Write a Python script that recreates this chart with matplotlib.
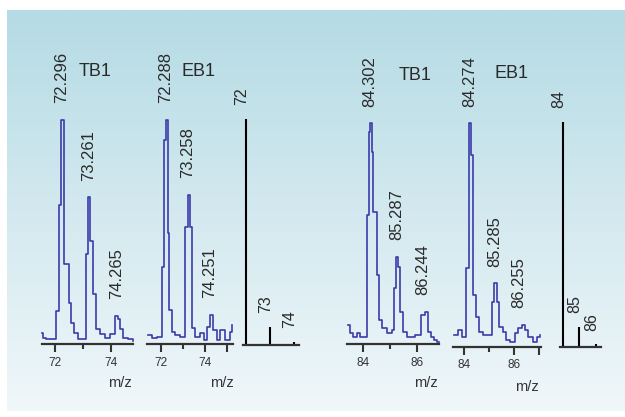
import numpy as np
import matplotlib
matplotlib.use("Agg")
import matplotlib.pyplot as plt
from matplotlib.colors import LinearSegmentedColormap
from matplotlib.patches import Rectangle

plt.rcParams['font.family'] = ['Liberation Sans', 'DejaVu Sans']

# profile spectra, intensity in % of the tallest peak
tb1_72_mz = [71.53, 71.58, 71.68, 72.05, 72.14, 72.23, 72.32, 72.49, 72.58, 72.68, 72.82, 73.12, 73.18,
             73.26, 73.36, 73.48, 73.60, 73.77, 73.95, 74.13, 74.25, 74.31, 74.43, 74.60, 74.77]
tb1_72_int = [5.0, 2.7, 2.2, 14.8, 61.9, 100, 35.9, 18.4, 9.4, 4.9, 2.2, 40.4, 65.5,
              46.2, 22.4, 6.7, 4.5, 2.7, 4.5, 12.6, 11.2, 6.7, 2.7, 2.2, 1.3]

eb1_72_mz = [71.42, 71.60, 71.82, 72.05, 72.15, 72.24, 72.31, 72.37, 72.50, 72.64, 72.87, 73.09, 73.22,
             73.32, 73.40, 73.55, 73.77, 73.96, 74.07, 74.22, 74.37, 74.52, 74.67, 74.90, 75.12, 75.23]
eb1_72_int = [4.0, 2.7, 3.3, 34.5, 91.1, 100, 49.6, 15.2, 5.5, 4.0, 3.3, 52.4, 66.5,
              52.4, 7.1, 3.3, 5.0, 1.8, 7.7, 12.9, 6.3, 1.8, 6.3, 1.8, 5.5, 8.5]

tb1_84_mz = [83.45, 83.53, 83.65, 83.78, 83.90, 84.15, 84.21, 84.27, 84.33, 84.39, 84.51, 84.61, 84.72,
             84.88, 85.07, 85.15, 85.22, 85.31, 85.37, 85.49, 85.62, 85.92, 86.14, 86.29, 86.39, 86.51,
             86.63, 86.72, 86.80]
tb1_84_int = [8.6, 4.8, 3.3, 4.8, 3.3, 58.5, 96.2, 100, 87.1, 59.9, 31.3, 10.9, 7.1,
              4.8, 6.3, 25.2, 39.6, 35.0, 14.6, 5.6, 3.3, 4.1, 13.1, 14.6, 5.6, 3.3,
              1.8, 1.0, 1.0]

eb1_84_mz = [83.59, 83.76, 83.90, 84.07, 84.19, 84.27, 84.36, 84.47, 84.60, 84.76, 84.96, 85.10, 85.20,
             85.30, 85.39, 85.54, 85.66, 85.83, 86.03, 86.16, 86.30, 86.43, 86.56, 86.76, 86.92, 87.03]
eb1_84_int = [5.2, 7.5, 4.5, 35.1, 100, 85.8, 23.1, 13.4, 6.7, 5.2, 5.2, 20.1, 28.4,
              20.1, 9.0, 6.7, 3.0, 2.2, 6.0, 8.2, 9.7, 7.5, 4.5, 2.2, 4.5, 5.2]

# peak labels
tb1_72_peaks = ['72.296', '73.261', '74.265']
eb1_72_peaks = ['72.288', '73.258', '74.251']
tb1_84_peaks = ['84.302', '85.287', '86.244']
eb1_84_peaks = ['84.274', '85.285', '86.255']

# theoretical isotope sticks
stick_72_mz = [72, 73, 74]
stick_72_int = [100, 8.0, 1.3]
stick_84_mz = [84, 85, 86]
stick_84_int = [100, 8.6, 1.0]

W, H = 625, 417
fig = plt.figure(figsize=(W / 100, H / 100), dpi=100)
fig.patch.set_facecolor('white')


def px_axes(left, right, base, top):
    return fig.add_axes([left / W, 1 - base / H, (right - left) / W, (base - top) / H])


# gradient panel behind everything
bg = px_axes(7, W, 411, 10)
cmap = LinearSegmentedColormap.from_list('bg', ['#b5dbe5', '#d3e9ef', '#f0f7fa'])
bg.imshow(np.linspace(0, 1, 256).reshape(-1, 1), aspect='auto', cmap=cmap, extent=[0, 1, 0, 1])
bg.axis('off')

line_col = '#3b3bab'
ax_col = '#333333'
txt_col = '#2a2a2a'


def style(ax, xlim):
    ax.set_facecolor('none')
    for s in ['top', 'left', 'right']:
        ax.spines[s].set_visible(False)
    ax.spines['bottom'].set_linewidth(1.6)
    ax.spines['bottom'].set_color(ax_col)
    ax.set_yticks([])
    ax.set_xlim(*xlim)
    ax.set_ylim(0, 100)


def spectrum(box, xlim, mz, inten, peaks, major, labels, minor):
    ax = px_axes(*box)
    style(ax, xlim)
    ax.plot(mz, inten, drawstyle='steps-post', color=line_col, lw=1.2, clip_on=False)
    mz_a, int_a = np.array(mz), np.array(inten)
    for p in peaks:
        v = float(p)
        h = int_a[np.abs(mz_a - v) < 0.3].max()
        ax.annotate(p, (v, h), xytext=(-1, 12), textcoords='offset points', rotation=90,
                    ha='center', va='bottom', fontsize=12, color=txt_col)
    ax.set_xticks(major, labels)
    ax.set_xticks(minor, minor=True)
    ax.tick_params(which='major', length=6, width=1.5, color=ax_col, labelsize=8.5,
                   labelcolor=ax_col, pad=3)
    ax.tick_params(which='minor', length=3.5, width=1.5, color=ax_col)
    return ax


def sticks(box, xlim, mz, inten):
    ax = px_axes(*box)
    style(ax, xlim)
    ax.set_xticks([])
    ax.vlines(mz, 0, inten, color='black', lw=1.5, clip_on=False)
    for m, h in zip(mz, inten):
        ax.annotate(str(m), (m, h), xytext=(-3, 10), textcoords='offset points', rotation=90,
                    ha='center', va='bottom', fontsize=11.5, color=txt_col)
    return ax


spectrum((41.7, 132.7, 344.3, 120), (71.525, 74.775), tb1_72_mz, tb1_72_int, tb1_72_peaks,
         [72, 74], ['72', '74'], [73])
spectrum((147.3, 233.3, 344, 120), (71.40, 75.27), eb1_72_mz, eb1_72_int, eb1_72_peaks,
         [72, 74, 75], ['72', '74', ''], [73])
sticks((243.3, 299.3, 345, 119.3), (71.89, 74.22), stick_72_mz, stick_72_int)
spectrum((347.3, 439, 344, 123.3), (83.43, 86.8), tb1_84_mz, tb1_84_int, tb1_84_peaks,
         [84, 86], ['84', '86'], [85])
spectrum((453.3, 540.7, 346.7, 123.3), (83.56, 87.06), eb1_84_mz, eb1_84_int, eb1_84_peaks,
         [84, 86, 87], ['84', '86', ''], [85])
sticks((560, 600.7, 346.7, 121.7), (83.85, 86.29), stick_84_mz, stick_84_int)


def px_text(x, y, s, **kw):
    return fig.text(x / W, 1 - y / H, s, ha='center', va='center', **kw)


for x, y, s in [(95, 71, 'TB1'), (198, 71, 'EB1'), (415, 76, 'TB1'), (512, 74, 'EB1')]:
    px_text(x, y, s, fontsize=13, color=txt_col)

for x, y in [(120, 383), (222, 383), (426, 383), (527, 387)]:
    t = px_text(x, y, 'm/z', fontsize=10.5, color=ax_col)
    if x == 222:
        # the original label is cut off at the panel edge
        t.set_clip_path(Rectangle((0, 0), 233 / W, 1, transform=fig.transFigure))
        t.set_clip_on(True)

fig.savefig('out.png', dpi=100)
